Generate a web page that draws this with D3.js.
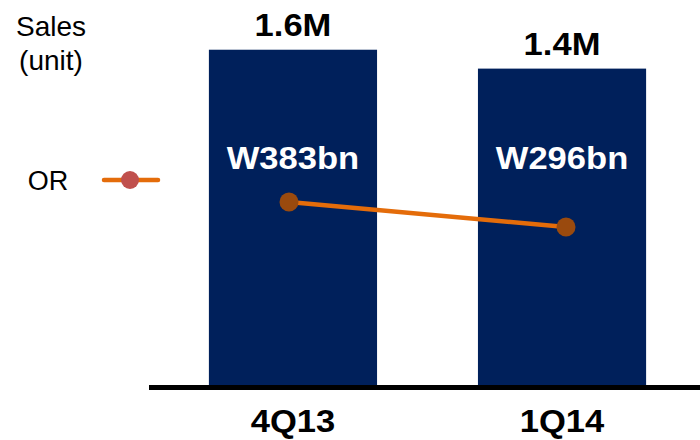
<!DOCTYPE html>
<html>
<head>
<meta charset="utf-8">
<script src="https://cdn.jsdelivr.net/npm/d3@7/dist/d3.min.js"></script>
<style>
  html, body { margin: 0; padding: 0; background: #fff; }
  svg { display: block; }
  text { font-family: Arial, "Liberation Sans", sans-serif; }
</style>
</head>
<body>
<svg id="chart" width="700" height="440"></svg>
<script>
// Quarterly sales volume (million units) with operating revenue (KRW bn)
const quarters = ["4Q13", "1Q14"];
const salesUnits = [1.6, 1.4];
const salesLabels = ["1.6M", "1.4M"];
const operatingRevenue = [383, 296];
const revenueLabels = ["W383bn", "W296bn"];

const W = 700, H = 440;
const svg = d3.select("#chart");

const barColor = "#00205b";
const lineColor = "#e46c0a";
const markerColor = "#9a4a0e";
const legendMarker = "#c0504d";
const baseY = 385;

const x = d3.scaleBand()
  .domain(quarters)
  .range([108, 747])
  .paddingInner(0.375)
  .paddingOuter(0.375);

// truncated value axis for the bars
const y = d3.scaleLinear().domain([-1.95, 1.65]).range([baseY, 45]);
// separate scale for the revenue line
const yLine = d3.scaleLinear().domain([0, 1000]).range([312, 25]);
const xLine = d3.scalePoint().domain(quarters).range([289, 566]);

// bars
svg.append("g").selectAll("rect")
  .data(quarters)
  .join("rect")
  .attr("x", d => x(d))
  .attr("width", x.bandwidth())
  .attr("y", (d, i) => y(salesUnits[i]))
  .attr("height", (d, i) => baseY - y(salesUnits[i]))
  .attr("fill", barColor);

// baseline
svg.append("line")
  .attr("x1", 149).attr("x2", W)
  .attr("y1", baseY + 2.5).attr("y2", baseY + 2.5)
  .attr("stroke", "#000").attr("stroke-width", 5);

// bold text helper with slightly widened glyphs
function boldText(g, tx, ty, str, size, fill) {
  g.append("text")
    .attr("transform", `translate(${tx},${ty}) scale(1.08,1)`)
    .attr("text-anchor", "middle")
    .attr("font-weight", "bold")
    .attr("font-size", size)
    .attr("fill", fill)
    .text(str);
}

const labels = svg.append("g");
quarters.forEach((q, i) => {
  const cx = x(q) + x.bandwidth() / 2;
  boldText(labels, cx, y(salesUnits[i]) - 14, salesLabels[i], 32, "#000");
  boldText(labels, cx, 169, revenueLabels[i], 32, "#fff");
  boldText(labels, cx, 432, q, 32, "#000");
});

// revenue line
const pts = quarters.map((q, i) => [xLine(q), yLine(operatingRevenue[i])]);
svg.append("path")
  .attr("d", d3.line()(pts))
  .attr("fill", "none")
  .attr("stroke", lineColor)
  .attr("stroke-width", 4.5);
svg.append("g").selectAll("circle")
  .data(pts)
  .join("circle")
  .attr("cx", d => d[0]).attr("cy", d => d[1])
  .attr("r", 9.5)
  .attr("fill", markerColor);

// left-side legend
const legend = svg.append("g");
legend.append("text").attr("x", 51).attr("y", 36)
  .attr("text-anchor", "middle").attr("font-size", 28).attr("fill", "#000")
  .text("Sales");
legend.append("text").attr("x", 51).attr("y", 70)
  .attr("text-anchor", "middle").attr("font-size", 28).attr("fill", "#000")
  .text("(unit)");
legend.append("text").attr("x", 48).attr("y", 190)
  .attr("text-anchor", "middle").attr("font-size", 27).attr("fill", "#000")
  .text("OR");
legend.append("line")
  .attr("x1", 104).attr("x2", 158).attr("y1", 180).attr("y2", 180)
  .attr("stroke", lineColor).attr("stroke-width", 4.5).attr("stroke-linecap", "round");
legend.append("circle")
  .attr("cx", 130).attr("cy", 180).attr("r", 9)
  .attr("fill", legendMarker);
</script>
</body>
</html>
